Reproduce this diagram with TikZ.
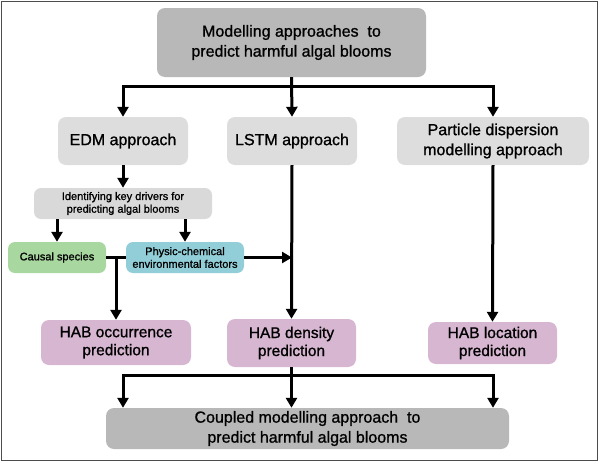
\documentclass[tikz,border=0pt]{standalone}
\usepackage{fontspec}
\setmainfont{Liberation Sans}[BoldFont=Liberation Sans, BoldFeatures={FakeBold=1}]
\usetikzlibrary{arrows.meta}

\definecolor{topgray}{HTML}{B8B8B8}
\definecolor{stepgray}{HTML}{DDDDDD}
\definecolor{drivergray}{HTML}{D9D9D9}
\definecolor{causalgreen}{HTML}{A8D8A0}
\definecolor{envcyan}{HTML}{92CED8}
\definecolor{habpink}{HTML}{D7B6D1}

\begin{document}
\begin{tikzpicture}[x=1pt, y=-1pt,
  box/.style={rectangle, rounded corners=8pt, align=center, inner sep=2pt},
  bigtext/.style={font=\fontsize{16}{20}\selectfont\bfseries},
  habtext/.style={font=\fontsize{15.5}{18}\selectfont\bfseries},
  smalltext/.style={font=\fontsize{11}{12.7}\selectfont\bfseries},
  link/.style={line width=3pt},
  arrowlink/.style={link, -{Triangle[width=11pt,length=10pt]}}]
\useasboundingbox (0,0) rectangle (598,461);
\draw[black!70, line width=1pt] (1,1) rectangle (597,460);

% Boxes
\node[box, bigtext, fill=topgray, minimum width=269pt, minimum height=69pt] (top) at (291.5,42.5) {Modelling approaches~ to\\predict harmful algal blooms};
\node[box, bigtext, fill=stepgray, minimum width=130pt, minimum height=48pt] (edm) at (123,141) {EDM approach};
\node[box, bigtext, fill=stepgray, minimum width=130pt, minimum height=48pt] (lstm) at (292,141) {LSTM approach};
\node[box, bigtext, fill=stepgray, minimum width=192pt, minimum height=48pt] (particle) at (493,141) {Particle dispersion\\modelling approach};
\node[box, smalltext, fill=drivergray, rounded corners=7pt, minimum width=178pt, minimum height=31pt] (drivers) at (123,203.5) {Identifying key drivers for\\predicting algal blooms};
\node[box, smalltext, fill=causalgreen, rounded corners=7pt, minimum width=98pt, minimum height=31pt] (causal) at (57,257.5) {Causal species};
\node[box, smalltext, fill=envcyan, rounded corners=7pt, minimum width=118pt, minimum height=31pt] (env) at (185,257.5) {Physic-chemical\\environmental factors};
\node[box, habtext, fill=habpink, minimum width=150pt, minimum height=45pt] (occurrence) at (116,342.5) {HAB occurrence\\prediction};
\node[box, habtext, fill=habpink, minimum width=129pt, minimum height=48pt] (density) at (291.5,343) {HAB density\\prediction};
\node[box, habtext, fill=habpink, minimum width=129pt, minimum height=42pt] (location) at (492.5,343) {HAB location\\prediction};
\node[box, bigtext, fill=topgray, minimum width=403pt, minimum height=41pt] (coupled) at (307.5,428.5) {Coupled modelling approach~ to\\predict harmful algal blooms};

% Arrows
\draw[link] (top.south) -- ++(0,9) coordinate (split1);
\draw[arrowlink] (split1) -| (edm.north);
\draw[arrowlink] (split1) -| (particle.north);
\draw[arrowlink] (top.south) -- (lstm.north);
\draw[arrowlink] (edm.south) -- (drivers.north);
\draw[arrowlink] (causal.north |- drivers.south) -- (causal.north);
\draw[arrowlink] (env.north |- drivers.south) -- (env.north);
\draw[link] (causal.east) -- (env.west);
\draw[arrowlink] (occurrence.north |- causal.east) -- (occurrence.north);
\draw[arrowlink] (env.east) -- (env.east -| lstm.south);
\draw[arrowlink] (lstm.south) -- (density.north);
\draw[arrowlink] (particle.south) -- (location.north);
\draw[link] (density.south) -- ++(0,8) coordinate (split2);
\draw[arrowlink] (split2) -| (edm |- coupled.north);
\draw[arrowlink] (split2) -| (particle |- coupled.north);
\draw[arrowlink] (density.south) -- (density |- coupled.north);
\end{tikzpicture}
\end{document}
